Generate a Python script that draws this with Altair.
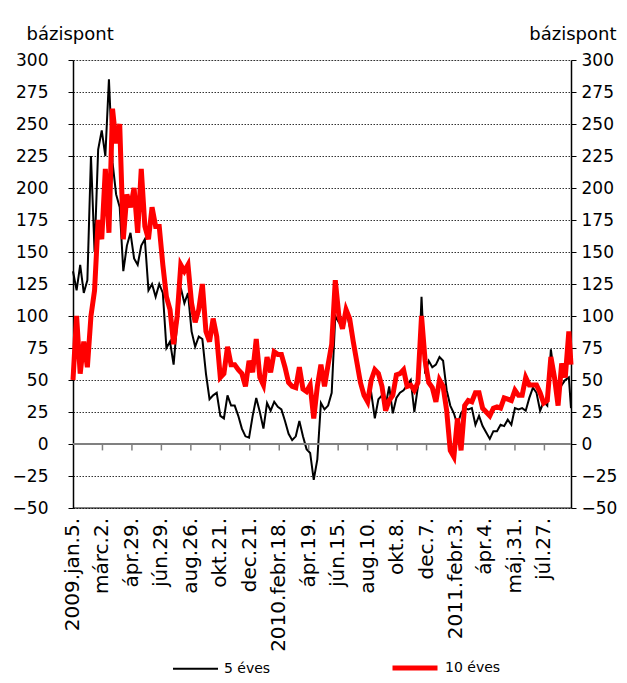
import altair as alt
import pandas as pd

# ---- data ----
tick_labels = ["2009.jan.5.", "márc.2.", "ápr.29.", "jún.29.", "aug.26.", "okt.21.", "dec.21.",
               "2010.febr.18.", "ápr.19.", "jún.15.", "aug.10.", "okt.8.", "dec.7.",
               "2011.febr.3.", "ápr.4.", "máj.31.", "júl.27."]
days_per_label = 41
days = [5 * j for j in range(139)] + [693]

five_year = [
    135, 120, 140, 118, 128, 225, 150, 230, 245, 225,
    285, 220, 195, 185, 135, 155, 165, 145, 140, 155,
    160, 120, 125, 115, 125, 118, 75, 80, 62, 95,
    122, 110, 118, 88, 76, 84, 82, 55, 35, 38,
    40, 22, 20, 38, 30, 30, 22, 12, 6, 5,
    22, 36, 25, 12, 32, 26, 33, 29, 27, 18,
    8, 3, 6, 18, 6, -4, -7, -28, -12, 32,
    27, 30, 40, 100, 95, 95, 105, 92, 80, 62,
    50, 40, 35, 40, 20, 35, 38, 30, 45, 24,
    36, 40, 42, 46, 50, 25, 45, 115, 55, 65,
    60, 62, 68, 65, 42, 30, 24, 15, 24, 28,
    27, 28, 15, 22, 14, 9, 4, 10, 10, 15,
    14, 19, 15, 28, 27, 28, 26, 36, 44, 40,
    26, 33, 30, 74, 52, 40, 46, 50, 52,
    28,
]
ten_year = [
    50, 100, 55, 80, 60, 100, 120, 175, 160, 215,
    165, 262, 235, 250, 160, 195, 185, 200, 165, 215,
    170, 160, 185, 170, 170, 140, 115, 105, 78, 100,
    140, 135, 140, 110, 95, 105, 125, 88, 80, 98,
    84, 52, 55, 76, 62, 62, 58, 55, 45, 65,
    56, 82, 52, 46, 68, 56, 72, 70, 70, 60,
    48, 45, 44, 60, 43, 41, 46, 20, 45, 62,
    45, 62, 78, 128, 100, 90, 105, 98, 80, 64,
    48, 38, 33, 50, 58, 55, 45, 26, 34, 38,
    54, 55, 58, 45, 46, 42, 48, 100, 65, 48,
    44, 33, 50, 45, 26, -5, -10, 20, -5, 30,
    34, 33, 40, 40, 28, 25, 22, 28, 29, 28,
    36, 35, 34, 42, 38, 38, 52, 46, 46, 46,
    40, 32, 34, 68, 52, 30, 63, 52, 88,
    62,
]
series_names = ["5 éves", "10 éves"]
series_colors = ["#000000", "#ff0000"]
series_widths = [2, 5]
y_ticks = list(range(-50, 301, 25))

assert len(five_year) == len(days) == len(ten_year)

df = pd.DataFrame({
    "day": days * 2,
    "value": five_year + ten_year,
    "series": [series_names[0]] * len(days) + [series_names[1]] * len(days),
})
labels_df = pd.DataFrame({"day": [days_per_label * k for k in range(len(tick_labels))],
                          "label": tick_labels})
ticks_df = pd.DataFrame({"day": [days_per_label * k for k in range(1, len(tick_labels))]})
zero_df = pd.DataFrame({"y": [0]})
bottom_df = pd.DataFrame({"y": [-50]})

FONT = "DejaVu Sans"
yscale = alt.Scale(domain=[-50, 300], nice=False, zero=False)
xscale = alt.Scale(domain=[0, 693], nice=False, zero=False)

left_axis = alt.Axis(values=y_ticks, title="bázispont", titleAngle=0, titleAlign="left",
                     titleX=-47, titleY=-21, titleBaseline="alphabetic", titleFontSize=18,
                     titleFontWeight="normal", titleFont=FONT, titleColor="black",
                     grid=True, gridDash=[1.5, 1.5], gridColor="#333333", gridWidth=1,
                     tickSize=5, tickColor="black", domainColor="black", domainWidth=1.5,
                     labelPadding=20, labelFontSize=17, labelFont=FONT, labelColor="black")

right_axis = alt.Axis(orient="right", values=y_ticks, title="bázispont", titleAngle=0, titleAlign="right",
                      titleX=45, titleY=-21, titleBaseline="alphabetic", titleFontSize=18,
                      titleFontWeight="normal", titleFont=FONT, titleColor="black",
                      grid=False, tickSize=5, tickColor="black", domainColor="black", domainWidth=1.5,
                      labelPadding=5, labelFontSize=17, labelFont=FONT, labelColor="black")

legend = alt.Legend(title=None, orient="none", legendX=99, legendY=583, direction="horizontal",
                    symbolType="stroke", symbolSize=2025, labelFontSize=14, labelFont=FONT,
                    labelColor="black", columnPadding=111, labelOffset=5, padding=0)

color = alt.Color("series:N", scale=alt.Scale(domain=series_names, range=series_colors), legend=legend)
swidth = alt.StrokeWidth("series:N", scale=alt.Scale(domain=series_names, range=series_widths), legend=legend)

bottom_line = alt.Chart(bottom_df).mark_rule(color="black", strokeWidth=1).encode(
    y=alt.Y("y:Q", scale=yscale, axis=None))
zero_line = alt.Chart(zero_df).mark_rule(color="#808080", strokeWidth=2).encode(
    y=alt.Y("y:Q", scale=yscale, axis=None))
tick_marks = alt.Chart(ticks_df).mark_rule(color="#808080", strokeWidth=1.5).encode(
    x=alt.X("day:Q", scale=xscale, axis=None),
    y=alt.Y(datum=0, scale=yscale, axis=None),
    y2=alt.Y2(datum=-5))
x_labels = alt.Chart(labels_df).mark_text(angle=270, align="right", baseline="middle", dx=-10,
                                          fontSize=20, font=FONT, color="black").encode(
    x=alt.X("day:Q", scale=xscale, axis=None),
    y=alt.Y(datum=-50, scale=yscale, axis=None),
    text="label:N")
black = alt.Chart(df).transform_filter(alt.datum.series == series_names[0]).mark_line().encode(
    x=alt.X("day:Q", scale=xscale, axis=None),
    y=alt.Y("value:Q", scale=yscale, axis=left_axis),
    color=color, strokeWidth=swidth)
red = alt.Chart(df).transform_filter(alt.datum.series == series_names[1]).mark_line().encode(
    x=alt.X("day:Q", scale=xscale, axis=None),
    y=alt.Y("value:Q", scale=yscale, axis=None),
    color=color, strokeWidth=swidth)
right = alt.Chart(df).mark_line(opacity=0).encode(
    x=alt.X("day:Q", scale=xscale, axis=None),
    y=alt.Y("value:Q", scale=yscale, axis=right_axis))

chart = alt.layer(black, bottom_line, zero_line, tick_marks, x_labels, red, right).resolve_scale(
    y="independent").properties(
    width=498, height=448,
    padding={"left": 65, "top": 52, "right": 48, "bottom": 167},
    autosize=alt.AutoSizeParams(type="none"),
).configure_view(strokeWidth=0).configure(font=FONT, background="white")

chart.save("out.html", embed_options={"renderer": "svg", "actions": False})
